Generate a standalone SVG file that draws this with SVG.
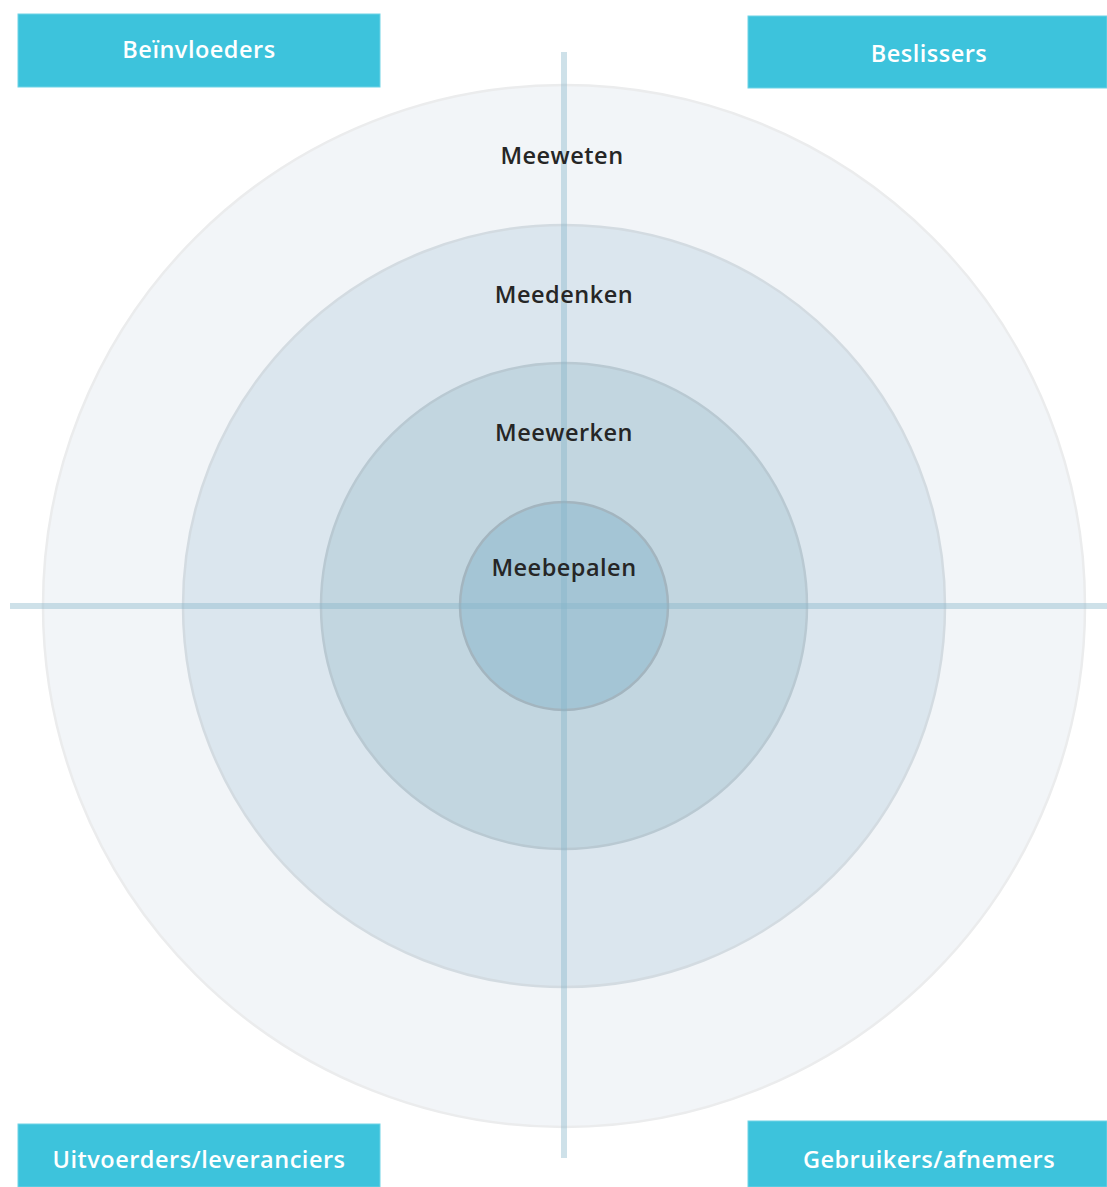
<svg xmlns="http://www.w3.org/2000/svg" width="1107" height="1187" viewBox="0 0 1107 1187">
<style>
.box{fill:#3dc3dc;stroke:#6fd3e6;stroke-width:1}
.boxt{font-family:"Open Sans","Noto Sans",sans-serif;font-weight:600;font-size:23.5px;fill:#ffffff;text-anchor:middle;letter-spacing:0.5px}
.lbl{font-family:"Open Sans","Noto Sans",sans-serif;font-weight:600;font-size:23.5px;fill:#262626;text-anchor:middle;letter-spacing:0.5px}
.ring{stroke-width:2.5}
.axis{stroke:#84b4c9;stroke-opacity:0.4;stroke-width:6}
</style>
<rect width="1107" height="1187" fill="#ffffff"/>
<g id="rings">
<circle id="ring-meeweten" class="ring" cx="564" cy="606" r="521" fill="#f2f5f8" stroke="#ebeced"/>
<circle id="ring-meedenken" class="ring" cx="564" cy="606" r="381" fill="#dbe6ee" stroke="#d3dbe1"/>
<circle id="ring-meewerken" class="ring" cx="564" cy="606" r="243" fill="#c2d6e0" stroke="#b9c9d2"/>
<circle id="ring-meebepalen" class="ring" cx="564" cy="606" r="104" fill="#a4c5d5" stroke="#a3b5bf"/>
</g>
<g id="connectors">
<line class="axis" x1="564" y1="52" x2="564" y2="1158"/>
<line class="axis" x1="10" y1="606" x2="1107" y2="606"/>
</g>
<g id="labels">
<text class="lbl" x="562" y="164">Meeweten</text>
<text class="lbl" x="564" y="303">Meedenken</text>
<text class="lbl" x="564" y="441">Meewerken</text>
<text class="lbl" x="564" y="576">Meebepalen</text>
</g>
<g id="node-beinvloeders">
<rect class="box" x="18" y="14" width="362" height="73"/>
<text class="boxt" x="199" y="58">Beïnvloeders</text>
</g>
<g id="node-beslissers">
<rect class="box" x="748" y="16" width="359" height="72"/>
<text class="boxt" x="929" y="62">Beslissers</text>
</g>
<g id="node-uitvoerders">
<rect class="box" x="18" y="1124" width="362" height="63"/>
<text class="boxt" x="199" y="1168">Uitvoerders/leveranciers</text>
</g>
<g id="node-gebruikers">
<rect class="box" x="748" y="1121" width="359" height="66"/>
<text class="boxt" x="929" y="1168">Gebruikers/afnemers</text>
</g>
</svg>
